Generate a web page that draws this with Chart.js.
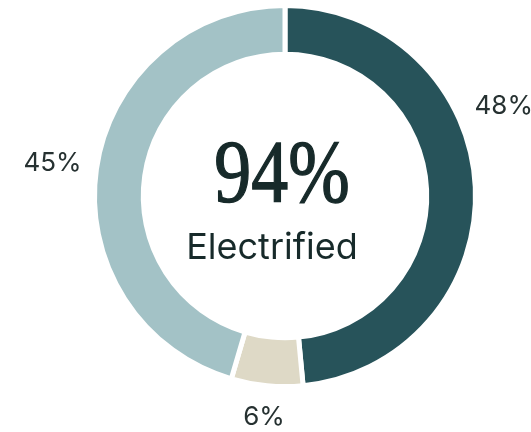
<!DOCTYPE html>
<html>
<head>
<meta charset="utf-8">
<script src="https://cdn.jsdelivr.net/npm/chart.js@4.4.1/dist/chart.umd.min.js"></script>
<style>
  html, body { margin: 0; padding: 0; background: #ffffff; }
  #wrap { width: 531px; height: 432px; }
</style>
</head>
<body>
<div id="wrap"><canvas id="electrifiedChart" width="531" height="432"></canvas></div>
<script>
const segments = ["Electrified", "Hybrid", "Other"];
const shares = [48, 6, 45];
const sliceColors = ["#27535a", "#ded9c6", "#a3c2c6"];
const centerValue = "94%";
const centerLabel = "Electrified";

// percent labels outside the ring, slid along the circle if they hit the edge
const outsideLabels = {
  id: "outsideLabels",
  afterDraw(chart) {
    const ctx = chart.ctx;
    const meta = chart.getDatasetMeta(0);
    const border = chart.data.datasets[0].borderWidth;
    ctx.save();
    ctx.font = "26px Inter";
    ctx.fillStyle = "#263131";
    ctx.textAlign = "center";
    ctx.textBaseline = "middle";
    meta.data.forEach((arc, i) => {
      const text = shares[i] + "%";
      const w = ctx.measureText(text).width;
      const h = 30; // line box
      const r = arc.outerRadius - border / 2;
      let angle = (arc.startAngle + arc.endAngle) / 2;
      const place = (a) => {
        const dx = Math.cos(a), dy = Math.sin(a);
        const d = r + 16 + Math.abs(dx) * w / 2 + Math.abs(dy) * h / 2;
        return { x: arc.x + dx * d, y: arc.y + dy * d };
      };
      let p = place(angle);
      let guard = 0;
      while ((p.x + w / 2 > chart.width + 2 || p.x - w / 2 < -2) && guard < 200) {
        // move toward the top of the ring
        angle += Math.cos(angle) > 0 ? -0.005 : 0.005;
        p = place(angle);
        guard++;
      }
      ctx.fillText(text, p.x, p.y + 1);
    });
    ctx.restore();
  }
};

// big figure and caption in the hole
const centerText = {
  id: "centerText",
  afterDraw(chart) {
    const ctx = chart.ctx;
    const arc = chart.getDatasetMeta(0).data[0];
    ctx.save();
    ctx.fillStyle = "#172a2a";
    ctx.strokeStyle = "#172a2a";
    ctx.textAlign = "center";
    ctx.textBaseline = "alphabetic";

    ctx.save();
    ctx.translate(arc.x - 3, arc.y + 5);
    ctx.scale(0.83, 1);
    ctx.font = "89px 'Liberation Serif'";
    ctx.lineWidth = 1.4;
    ctx.fillText(centerValue, 0, 0);
    ctx.strokeText(centerValue, 0, 0);
    ctx.restore();

    ctx.font = "36px Inter";
    ctx.fillText(centerLabel, arc.x - 13, arc.y + 63);
    ctx.restore();
  }
};

new Chart(document.getElementById("electrifiedChart"), {
  type: "doughnut",
  data: {
    labels: segments,
    datasets: [{
      data: shares,
      backgroundColor: sliceColors,
      borderColor: "#ffffff",
      borderWidth: 5,
      hoverOffset: 0
    }]
  },
  options: {
    responsive: false,
    animation: false,
    cutout: "74.4%",
    layout: {
      padding: { top: 3, bottom: 43, left: 60, right: 21 }
    },
    plugins: {
      legend: { display: false },
      tooltip: { enabled: false }
    }
  },
  plugins: [outsideLabels, centerText]
});
</script>
</body>
</html>
